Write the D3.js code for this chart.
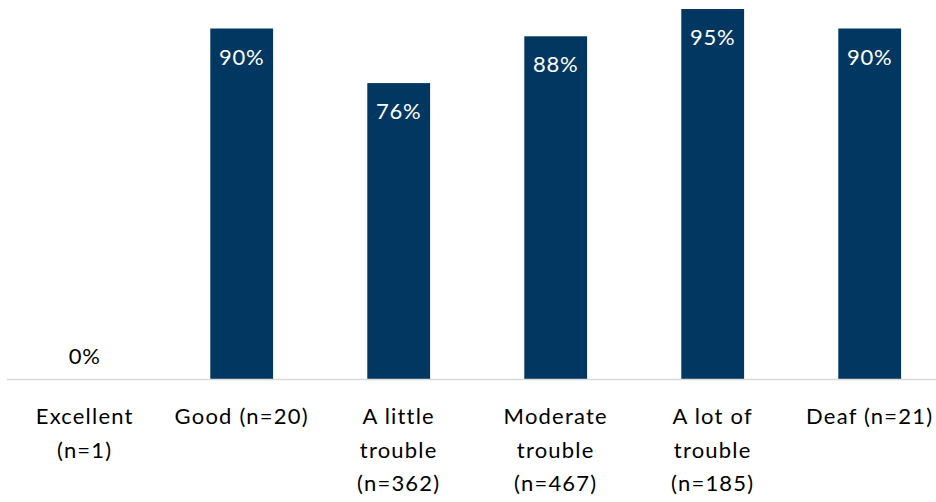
<!DOCTYPE html>
<html>
<head>
<meta charset="utf-8">
<script src="https://cdn.jsdelivr.net/npm/d3@7"></script>
<style>
  html, body { margin: 0; padding: 0; background: #ffffff; }
  svg { display: block; }
  text { font-family: Lato, "Open Sans", sans-serif; }
</style>
</head>
<body>
<svg id="chart" width="936" height="502"></svg>
<script>
// Hearing status groups, with sample sizes
const categories = [
  ["Excellent", "(n=1)"],
  ["Good (n=20)"],
  ["A little", "trouble", "(n=362)"],
  ["Moderate", "trouble", "(n=467)"],
  ["A lot of", "trouble", "(n=185)"],
  ["Deaf (n=21)"]
];
const categoryKeys = ["Excellent", "Good", "A little trouble", "Moderate trouble", "A lot of trouble", "Deaf"];
// Share of respondents (%)
const values = [0, 90, 76, 88, 95, 90];

const svg = d3.select("#chart");
const width = 936, height = 502;
const baseY = 379.5;
const barColor = "#023761";

const x = d3.scaleBand()
  .domain(categoryKeys)
  .range([6.2, 948.2])
  .paddingInner(0.6)
  .paddingOuter(0.3);

const y = d3.scaleLinear()
  .domain([0, 100])
  .range([baseY, baseY - 390]);

const data = categoryKeys.map((k, i) => ({ key: k, value: values[i], lines: categories[i] }));

// Bars
svg.append("g")
  .selectAll("rect")
  .data(data)
  .join("rect")
  .attr("x", d => x(d.key))
  .attr("y", d => y(d.value))
  .attr("width", x.bandwidth())
  .attr("height", d => y(0) - y(d.value))
  .attr("fill", barColor);

// Baseline
svg.append("line")
  .attr("x1", 7).attr("x2", width)
  .attr("y1", baseY).attr("y2", baseY)
  .attr("stroke", "#d9d9d9")
  .attr("stroke-width", 1.3);

// Value labels: inside the bar top, or above the baseline for empty bars
svg.append("g")
  .selectAll("text")
  .data(data)
  .join("text")
  .attr("x", d => x(d.key) + x.bandwidth() / 2)
  .attr("y", d => d.value > 0 ? y(d.value) + 36 : y(0) - 16)
  .attr("text-anchor", "middle")
  .attr("font-size", 22)
  .attr("letter-spacing", 0.8)
  .attr("fill", d => d.value > 0 ? "#ffffff" : "#000000")
  .text(d => d.value + "%");

// Category labels
const cat = svg.append("g")
  .selectAll("text")
  .data(data)
  .join("text")
  .attr("x", d => x(d.key) + x.bandwidth() / 2)
  .attr("y", 424)
  .attr("text-anchor", "middle")
  .attr("font-size", 22)
  .attr("letter-spacing", 1.2)
  .attr("fill", "#000000");

cat.selectAll("tspan")
  .data(d => d.lines.map(l => ({ l, cx: x(d.key) + x.bandwidth() / 2 })))
  .join("tspan")
  .attr("x", t => t.cx)
  .attr("dy", (t, i) => i === 0 ? 0 : 33.7)
  .text(t => t.l);
</script>
</body>
</html>
